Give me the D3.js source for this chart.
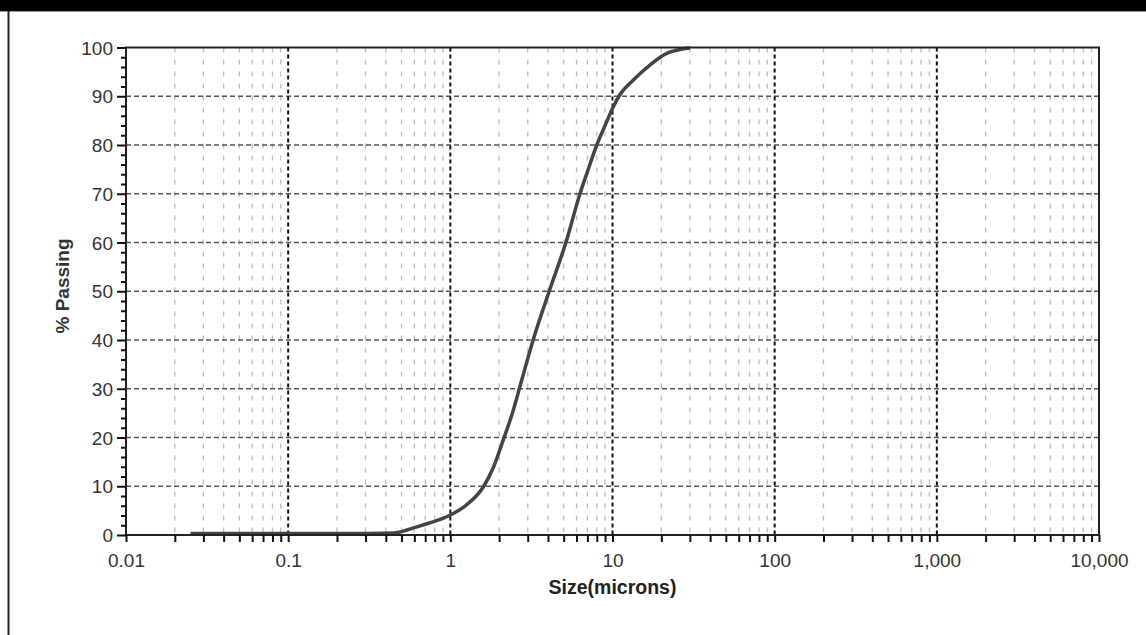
<!DOCTYPE html>
<html><head><meta charset="utf-8">
<script src="https://cdn.jsdelivr.net/npm/d3@7"></script>
<style>
html,body{margin:0;padding:0;background:#fff;}
svg{display:block;}
text{font-family:"Liberation Sans",Arial,sans-serif;}
</style></head>
<body>
<svg id="chart" width="1146" height="635"></svg>
<script>
// Data
const sizes   = [0.025,0.05,0.1,0.2,0.3,0.45,0.5,0.6,0.7,0.8,0.9,1.0,1.25,1.6,1.85,2.12,2.44,2.69,3.24,4.07,5.16,6.3,7.0,8.0,9.0,10.0,11.1,13.4,17.0,21.6,26,30];
const passing = [0.3,0.3,0.3,0.3,0.32,0.4,0.7,1.5,2.2,2.8,3.4,4.1,6.1,9.9,14,19.5,25.5,30.5,40,50,60,70,74.5,80,84,87.5,90.3,93.3,96.4,98.8,99.6,99.9];
const xTickValues = [0.01,0.1,1,10,100,1000,10000];
const xTickLabels = ["0.01","0.1","1","10","100","1,000","10,000"];
const yTickValues = [0,10,20,30,40,50,60,70,80,90,100];
const xTitle = "Size(microns)";
const yTitle = "% Passing";

const svg = d3.select("#chart");
const W = 1146, H = 635;
const L = 126, R = 1099, T = 47.5, B = 535;

// outer frame: top bar and left edge
svg.append("rect").attr("x",0).attr("y",0).attr("width",W).attr("height",11).attr("fill","#000");
svg.append("line").attr("x1",0).attr("x2",W).attr("y1",11.5).attr("y2",11.5).attr("stroke","#999").attr("stroke-width",1);
svg.append("line").attr("x1",8.5).attr("x2",8.5).attr("y1",11).attr("y2",H).attr("stroke","#222").attr("stroke-width",2);

const x = d3.scaleLog().domain([0.01,10000]).range([L,R]);
const y = d3.scaleLinear().domain([0,100]).range([B,T]);

// minor x values
const minorX = [];
for (let e=-2;e<4;e++){ for(let m=2;m<=9;m++){ minorX.push(m*Math.pow(10,e)); } }

const grid = svg.append("g");
grid.selectAll(".vminor").data(minorX).join("line")
  .attr("x1",d=>x(d)).attr("x2",d=>x(d)).attr("y1",T).attr("y2",B)
  .attr("stroke","#bdbdbd").attr("stroke-width",1.3).attr("stroke-dasharray","5,7");
grid.selectAll(".hmajor").data(yTickValues.filter(v=>v>0&&v<100)).join("line")
  .attr("x1",L).attr("x2",R).attr("y1",d=>y(d)).attr("y2",d=>y(d))
  .attr("stroke","#555").attr("stroke-width",1.5).attr("stroke-dasharray","5,3");
grid.selectAll(".vmajor").data(xTickValues.slice(1,-1)).join("line")
  .attr("x1",d=>x(d)).attr("x2",d=>x(d)).attr("y1",T).attr("y2",B)
  .attr("stroke","#111").attr("stroke-width",2).attr("stroke-dasharray","4,3");

// curve
const line = d3.line().x((d,i)=>x(sizes[i])).y((d,i)=>y(passing[i])).curve(d3.curveMonotoneX);
svg.append("path").datum(passing).attr("d",line)
  .attr("fill","none").attr("stroke","#444").attr("stroke-width",3.5).attr("stroke-linejoin","round");

// plot frame
svg.append("rect").attr("x",L).attr("y",T).attr("width",R-L).attr("height",B-T)
  .attr("fill","none").attr("stroke","#222").attr("stroke-width",2);

// x axis
const xAxis = d3.axisBottom(x).tickValues(xTickValues.concat(minorX)).tickSize(7)
  .tickFormat(d=>{const i=xTickValues.indexOf(d);return i>=0?xTickLabels[i]:"";});
const gx = svg.append("g").attr("transform",`translate(0,${B})`).call(xAxis);
gx.select(".domain").remove();
gx.selectAll(".tick line").attr("stroke","#111").attr("stroke-width",2);
gx.selectAll(".tick text").attr("font-size",19).attr("fill","#333").attr("dy","0").attr("y",32);

// y axis
const minorY = d3.range(0,101,2).filter(v=>v%10!==0);
const yAxis = d3.axisLeft(y).tickValues(yTickValues).tickSize(9).tickPadding(4);
const gy = svg.append("g").attr("transform",`translate(${L},0)`).call(yAxis);
gy.select(".domain").remove();
gy.selectAll(".tick line").attr("stroke","#111").attr("stroke-width",2);
gy.selectAll(".tick text").attr("font-size",19).attr("fill","#333").attr("dy","0.35em");
const gym = svg.append("g").attr("transform",`translate(${L},0)`).call(d3.axisLeft(y).tickValues(minorY).tickSize(5).tickFormat(""));
gym.select(".domain").remove();
gym.selectAll(".tick line").attr("stroke","#111").attr("stroke-width",2);

// titles
svg.append("text").attr("x",(L+R)/2).attr("y",594).attr("text-anchor","middle")
  .attr("font-size",19.5).attr("font-weight","bold").attr("fill","#222").text(xTitle);
svg.append("text").attr("transform","translate(69,286) rotate(-90)").attr("text-anchor","middle")
  .attr("font-size",19).attr("font-weight","bold").attr("fill","#333").text(yTitle);
</script>
</body></html>
